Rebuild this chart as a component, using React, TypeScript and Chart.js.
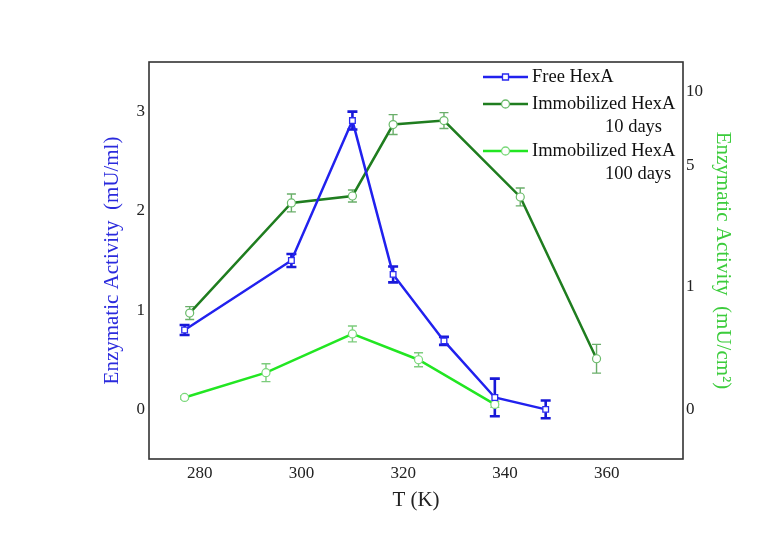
import React, { useEffect, useRef } from "react";
import { Chart, registerables } from "chart.js";

Chart.register(...registerables);

// ---- data ----
const TEMPS_FREE = [277, 298, 310, 318, 328, 338, 348];
const FREE_HEXA = [0.8, 1.5, 2.91, 1.36, 0.69, 0.12, 0.0];
const FREE_HEXA_ERR = [0.05, 0.065, 0.09, 0.08, 0.04, 0.19, 0.09];

const TEMPS_10D = [278, 298, 310, 318, 328, 343, 358];
const IMM_10D = [0.97, 2.08, 2.15, 2.87, 2.91, 2.14, 0.51];
const IMM_10D_ERR = [0.065, 0.09, 0.06, 0.1, 0.08, 0.09, 0.145];

const TEMPS_100D = [277, 293, 310, 323, 338];
const IMM_100D = [0.12, 0.37, 0.76, 0.5, 0.05];
const IMM_100D_ERR = [0.015, 0.09, 0.08, 0.07, 0.03];

const X_TICKS = [280, 300, 320, 340, 360];
const LEFT_TICKS = [0, 1, 2, 3];
const RIGHT_TICK_LABELS = ["0", "1", "5", "10"];
const RIGHT_TICK_AT = [0, 1.235, 2.455, 3.2];

const LEGEND_LINES = [
  ["Free HexA"],
  ["Immobilized HexA", "10 days"],
  ["Immobilized HexA", "100 days"],
];

const FONT = "'Liberation Serif', 'Times New Roman', serif";

const errorBarPlugin = {
  id: "errorBars",
  beforeDatasetsDraw(chart: any) {
    const ctx = chart.ctx;
    const xs = chart.scales.x;
    const ys = chart.scales.y;
    chart.data.datasets.forEach((ds: any) => {
      const errs = ds.errors;
      if (!errs) return;
      ctx.save();
      ctx.strokeStyle = ds.errorColor;
      ctx.lineWidth = ds.errorWidth;
      ds.data.forEach((p: any, j: number) => {
        const e = errs[j];
        if (!e) return;
        const px = xs.getPixelForValue(p.x);
        const top = ys.getPixelForValue(p.y + e);
        const bot = ys.getPixelForValue(p.y - e);
        const cw = ds.capHalf;
        ctx.beginPath();
        ctx.moveTo(px, top);
        ctx.lineTo(px, bot);
        ctx.moveTo(px - cw, top);
        ctx.lineTo(px + cw, top);
        ctx.moveTo(px - cw, bot);
        ctx.lineTo(px + cw, bot);
        ctx.stroke();
      });
      ctx.restore();
    });
  },
};

const framePlugin = {
  id: "frame",
  afterDraw(chart: any) {
    const { ctx, chartArea } = chart;
    ctx.save();
    ctx.strokeStyle = "#333";
    ctx.lineWidth = 1.6;
    ctx.strokeRect(chartArea.left, chartArea.top, chartArea.right - chartArea.left, chartArea.bottom - chartArea.top);
    ctx.restore();
  },
};

const legendPlugin = {
  id: "customLegend",
  afterDraw(chart: any) {
    const ctx = chart.ctx;
    const rows = [77, 104, 151];
    const x0 = 483, x1 = 528, tx = 532, indent = 605, lineGap = 23.5;
    ctx.save();
    chart.data.datasets.forEach((ds: any, i: number) => {
      const y = rows[i];
      ctx.strokeStyle = ds.borderColor;
      ctx.lineWidth = ds.borderWidth;
      ctx.beginPath();
      ctx.moveTo(x0, y);
      ctx.lineTo(x1, y);
      ctx.stroke();
      const cx = (x0 + x1) / 2;
      ctx.fillStyle = "#fff";
      ctx.strokeStyle = ds.pointBorderColor;
      ctx.lineWidth = 1.3;
      ctx.beginPath();
      if (ds.pointStyle === "rect") {
        ctx.rect(cx - 3, y - 3, 6, 6);
      } else {
        ctx.arc(cx, y, 4, 0, Math.PI * 2);
      }
      ctx.fill();
      ctx.stroke();
      ctx.fillStyle = "#111";
      ctx.font = `18.5px ${FONT}`;
      ctx.textBaseline = "middle";
      ctx.textAlign = "left";
      const lines = LEGEND_LINES[i];
      lines.forEach((t, k) => {
        ctx.fillText(t, k === 0 ? tx : indent, y + k * lineGap);
      });
    });
    ctx.restore();
  },
};

export default function App() {
  const ref = useRef<HTMLCanvasElement | null>(null);

  useEffect(() => {
    if (!ref.current) return;
    Chart.defaults.font.family = FONT;
    const chart = new Chart(ref.current, {
      type: "line",
      data: {
        datasets: [
          {
            label: LEGEND_LINES[0].join(" "),
            data: TEMPS_FREE.map((x, i) => ({ x, y: FREE_HEXA[i] })),
            borderColor: "#2121ee",
            borderWidth: 2.5,
            pointStyle: "rect",
            pointRadius: 4,
            pointBorderWidth: 1.3,
            pointBackgroundColor: "#ffffff",
            pointBorderColor: "#2a2af0",
            yAxisID: "y",
            errors: FREE_HEXA_ERR,
            errorColor: "#1818d8",
            errorWidth: 2.6,
            capHalf: 5,
          } as any,
          {
            label: LEGEND_LINES[1].join(" "),
            data: TEMPS_10D.map((x, i) => ({ x, y: IMM_10D[i] })),
            borderColor: "#1f7d1f",
            borderWidth: 2.5,
            pointStyle: "circle",
            pointRadius: 4,
            pointBorderWidth: 1.2,
            pointBackgroundColor: "#ffffff",
            pointBorderColor: "#6abb6a",
            yAxisID: "y",
            errors: IMM_10D_ERR,
            errorColor: "#6aae6a",
            errorWidth: 1.4,
            capHalf: 4.5,
          } as any,
          {
            label: LEGEND_LINES[2].join(" "),
            data: TEMPS_100D.map((x, i) => ({ x, y: IMM_100D[i] })),
            borderColor: "#22e622",
            borderWidth: 2.5,
            pointStyle: "circle",
            pointRadius: 4,
            pointBorderWidth: 1.2,
            pointBackgroundColor: "#ffffff",
            pointBorderColor: "#7ad87a",
            yAxisID: "y",
            errors: IMM_100D_ERR,
            errorColor: "#7ccc7c",
            errorWidth: 1.4,
            capHalf: 4.5,
          } as any,
        ],
      },
      options: {
        animation: false,
        responsive: false,
        layout: { padding: { top: 62, left: 0, right: 0, bottom: 0 } },
        plugins: {
          legend: { display: false },
          tooltip: { enabled: false },
        },
        scales: {
          x: {
            type: "linear",
            min: 270,
            max: 375,
            afterBuildTicks: (s: any) => {
              s.ticks = X_TICKS.map((v) => ({ value: v }));
            },
            afterFit: (s: any) => {
              s.height = 90;
            },
            ticks: { font: { family: FONT, size: 17 }, color: "#222", padding: 4 },
            grid: { display: false, drawTicks: false },
            border: { display: false },
            title: {
              display: true,
              text: "T (K)",
              font: { family: FONT, size: 21 },
              color: "#222",
              padding: 36,
            },
          },
          y: {
            type: "linear",
            position: "left",
            min: -0.5,
            max: 3.5,
            afterBuildTicks: (s: any) => {
              s.ticks = LEFT_TICKS.map((v) => ({ value: v }));
            },
            afterFit: (s: any) => {
              s.width = 149;
            },
            ticks: { font: { family: FONT, size: 17 }, color: "#222", padding: 4 },
            grid: { display: false, drawTicks: false },
            border: { display: false },
            title: {
              display: true,
              text: "Enzymatic Activity  (mU/ml)",
              font: { family: FONT, size: 21 },
              color: "#2b2bdd",
              padding: 100,
            },
          },
          y2: {
            type: "linear",
            position: "right",
            min: -0.5,
            max: 3.5,
            afterBuildTicks: (s: any) => {
              s.ticks = RIGHT_TICK_AT.map((v) => ({ value: v }));
            },
            afterFit: (s: any) => {
              s.width = 92;
            },
            ticks: {
              font: { family: FONT, size: 17 },
              color: "#222",
              padding: 3,
              callback: (_v: any, i: number) => RIGHT_TICK_LABELS[i],
            },
            grid: { display: false, drawTicks: false },
            border: { display: false },
            title: {
              display: true,
              text: "Enzymatic Activity  (mU/cm²)",
              font: { family: FONT, size: 21 },
              color: "#3ccc3c",
              padding: 40,
            },
          },
        },
      },
      plugins: [errorBarPlugin, framePlugin, legendPlugin],
    });
    return () => chart.destroy();
  }, []);

  return (
    <div style={{ position: "absolute", left: 0, top: 0, width: 775, height: 549, background: "#fff" }}>
      <canvas ref={ref} width={775} height={549} style={{ display: "block" }} />
    </div>
  );
}
